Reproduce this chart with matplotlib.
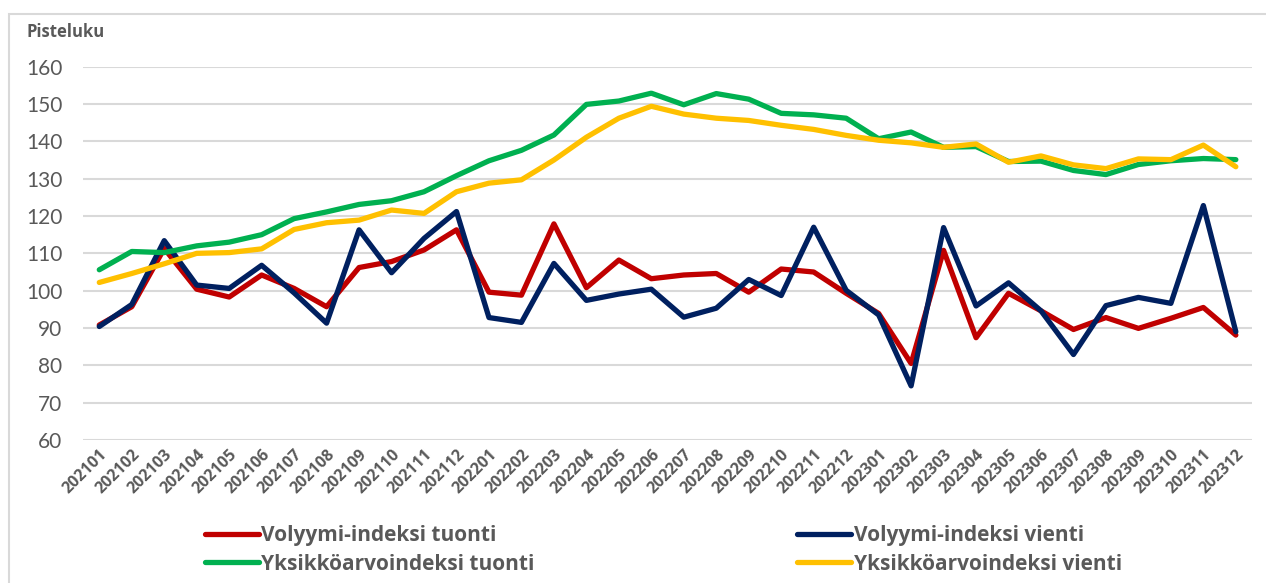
import matplotlib
matplotlib.use("Agg")
import matplotlib.pyplot as plt
from matplotlib.patches import Rectangle

plt.rcParams['font.family'] = ['Lato', 'DejaVu Sans']
BOLD = ['Open Sans', 'DejaVu Sans']

months = ['202101', '202102', '202103', '202104', '202105', '202106',
          '202107', '202108', '202109', '202110', '202111', '202112',
          '202201', '202202', '202203', '202204', '202205', '202206',
          '202207', '202208', '202209', '202210', '202211', '202212',
          '202301', '202302', '202303', '202304', '202305', '202306',
          '202307', '202308', '202309', '202310', '202311', '202312']

# Volyymi-indeksi tuonti
vol_tuonti = [90.8, 95.7, 111.3, 100.4, 98.3, 104.2, 100.6, 95.7, 106.2, 107.8,
              110.9, 116.3, 99.6, 98.8, 117.9, 100.8, 108.2, 103.2, 104.2, 104.6,
              99.6, 105.8, 105.0, 99.3, 93.9, 80.5, 110.8, 87.4, 99.3, 94.6,
              89.6, 92.8, 89.9, 92.6, 95.5, 88.1]

# Volyymi-indeksi vienti
vol_vienti = [90.4, 96.3, 113.4, 101.5, 100.6, 106.8, 99.4, 91.3, 116.3, 104.8,
              114.0, 121.2, 92.8, 91.5, 107.3, 97.4, 99.1, 100.4, 92.9, 95.3,
              103.0, 98.7, 117.0, 100.1, 93.5, 74.5, 116.9, 95.9, 102.1, 94.6,
              82.9, 96.0, 98.2, 96.6, 122.8, 89.0]

# Yksikköarvoindeksi tuonti
yks_tuonti = [105.6, 110.5, 110.2, 112.0, 113.0, 115.0, 119.3, 121.1, 123.1, 124.1,
              126.5, 130.8, 134.8, 137.6, 141.7, 149.9, 150.8, 152.9, 149.8, 152.8,
              151.3, 147.5, 147.1, 146.2, 140.7, 142.5, 138.4, 138.6, 134.6, 134.7,
              132.2, 131.1, 133.8, 134.8, 135.4, 135.1]

# Yksikköarvoindeksi vienti
yks_vienti = [102.2, 104.6, 107.2, 110.0, 110.2, 111.2, 116.4, 118.2, 118.9, 121.6,
              120.7, 126.5, 128.8, 129.7, 135.0, 141.1, 146.2, 149.4, 147.3, 146.2,
              145.6, 144.3, 143.2, 141.6, 140.3, 139.6, 138.4, 139.3, 134.4, 136.1,
              133.7, 132.7, 135.3, 135.1, 139.0, 133.2]

yticks = [60, 70, 80, 90, 100, 110, 120, 130, 140, 150, 160]

fig = plt.figure(figsize=(12.66, 5.83), dpi=100)
ax = fig.add_axes([0.0656, 0.2453, 0.9234, 0.6403])

# light outer frame of the chart
fig.patches.append(Rectangle((9 / 1266, -0.01), 1.1, 1 - 14 / 583 + 0.01,
                             transform=fig.transFigure, fill=False,
                             edgecolor='#d9d9d9', linewidth=1.5))

x = list(range(len(months)))
l1, = ax.plot(x, vol_tuonti, color='#c00000', lw=3.8, solid_capstyle='round', label='Volyymi-indeksi tuonti')
l2, = ax.plot(x, vol_vienti, color='#002060', lw=3.8, solid_capstyle='round', label='Volyymi-indeksi vienti')
l3, = ax.plot(x, yks_tuonti, color='#00b050', lw=3.8, solid_capstyle='round', label='Yksikköarvoindeksi tuonti')
l4, = ax.plot(x, yks_vienti, color='#ffc000', lw=3.8, solid_capstyle='round', label='Yksikköarvoindeksi vienti')

ax.set_xlim(-0.5, 35.5)
ax.set_ylim(60, 160)
ax.set_yticks(yticks)
ax.yaxis.grid(True, color='#d9d9d9', lw=1.5)
ax.set_axisbelow(True)
for s in ax.spines.values():
    s.set_visible(False)
ax.tick_params(axis='both', length=0)
ax.tick_params(axis='y', labelsize=15, labelcolor='#595959', pad=15)
ax.set_xticks(x)
ax.set_xticklabels(months, rotation=45, ha='right', rotation_mode='anchor',
                   fontsize=11.5, fontweight='bold', color='#595959', family=BOLD)
ax.tick_params(axis='x', pad=5)

fig.text(26 / 1266, 1 - 32 / 583, 'Pisteluku', fontsize=12, fontweight='bold',
         color='#595959', va='center', ha='left', family=BOLD)

leg = fig.legend([l1, l3, l2, l4],
                 [l1.get_label(), l3.get_label(), l2.get_label(), l4.get_label()],
                 ncol=2, loc='center left', bbox_to_anchor=(186 / 1266, 1 - 550 / 583),
                 frameon=False, prop={'family': BOLD, 'weight': 'bold', 'size': 15},
                 handlelength=2.6, handletextpad=0.12,
                 columnspacing=12.6, labelspacing=0.35)
for t in leg.get_texts():
    t.set_color('#595959')

fig.savefig('out.png', dpi=100)
